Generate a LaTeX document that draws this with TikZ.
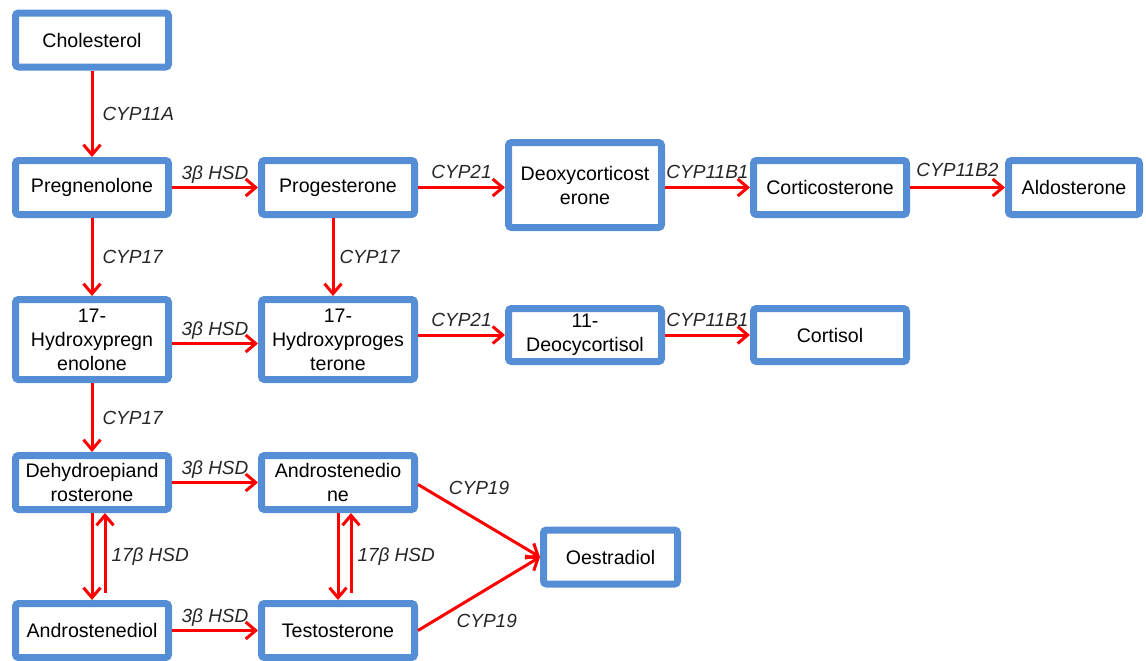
\documentclass[tikz,border=0pt]{standalone}
\usepackage{fontspec}
\setmainfont{Liberation Sans}
\usetikzlibrary{arrows.meta,positioning}
\definecolor{boxblue}{RGB}{85,142,213}
\definecolor{convred}{RGB}{255,0,0}
\tikzset{
    box/.style={draw=boxblue,line width=3.5pt,rounded corners=1.5pt,fill=white,
        align=center,inner sep=0pt,minimum width=76.5pt,minimum height=27pt,
        font=\fontsize{9.8}{12}\selectfont},
    conv/.style={convred,line width=1.5pt,-{Straight Barb[length=5pt,width=8.5pt,line width=1.5pt]}},
    enz/.style={font=\fontsize{9.5}{11}\selectfont\itshape,text=black!85,inner sep=1.5pt}
}
\begin{document}
\begin{tikzpicture}[x=0.5pt,y=-0.5pt]
        \useasboundingbox (0,0) rectangle (1146,660);
        %% Steroids
        \node[box] (chol) at (92,40) {Cholesterol};
        \node[box] (preg) at (92,187.5) {Pregnenolone};
        \node[box] (prog) at (338,187.5) {Progesterone};
        \node[box,minimum height=42.5pt] (doc) at (585,185) {Deoxycorticost\\erone};
        \node[box] (cort) at (830,187.5) {Corticosterone};
        \node[box,minimum width=65.5pt] (aldo) at (1074,187.5) {Aldosterone};
        \node[box,minimum height=40pt] (ohpreg) at (92,339.5) {17-\\Hydroxypregn\\enolone};
        \node[box,minimum height=40pt] (ohprog) at (338,339.5) {17-\\Hydroxyproges\\terone};
        \node[box,minimum height=26.5pt] (deoc) at (585,335) {11-\\Deocycortisol};
        \node[box,minimum height=26.5pt] (cortisol) at (830,335) {Cortisol};
        \node[box] (dhea) at (92,482.5) {Dehydroepiand\\rosterone};
        \node[box] (adione) at (338,482.5) {Androstenedio\\ne};
        \node[box] (adiol) at (92,630.5) {Androstenediol};
        \node[box] (testo) at (338,630.5) {Testosterone};
        \node[box,minimum width=67pt] (oest) at (610.5,557) {Oestradiol};
        %% Top row
        \draw[conv] (chol.south) -- (preg.north)
            node[midway,right=3pt,enz] {CYP11A};
        \draw[conv] (preg.east) -- (prog.west)
            node[midway,above,enz] {3β HSD};
        \draw[conv] (prog.east) -- (prog.east -| doc.west)
            node[midway,above=2pt,enz] {CYP21};
        \draw[conv] (doc.east |- cort.west) -- (cort.west)
            node[midway,above=2pt,enz] {CYP11B1};
        \draw[conv] (cort.east) -- (aldo.west)
            node[midway,above=3pt,enz] {CYP11B2};
        %% 17-hydroxy row
        \draw[conv] (preg.south) -- (ohpreg.north)
            node[midway,right=3pt,enz] {CYP17};
        \draw[conv] ([xshift=-2.5pt]prog.south) -- ([xshift=-2.5pt]ohprog.north)
            node[midway,right=1pt,enz] {CYP17};
        \draw[conv] ([yshift=-2pt]ohpreg.east) -- ([yshift=-2pt]ohprog.west)
            node[midway,above,enz] {3β HSD};
        \draw[conv] (ohprog.east |- deoc.west) -- (deoc.west)
            node[midway,above=2pt,enz] {CYP21};
        \draw[conv] (deoc.east) -- (cortisol.west)
            node[midway,above=2pt,enz] {CYP11B1};
        %% Androgens
        \draw[conv] (ohpreg.south) -- (dhea.north)
            node[midway,right=3pt,enz] {CYP17};
        \draw[conv] (dhea.east) -- (adione.west)
            node[midway,above,enz] {3β HSD};
        \draw[conv] (adiol.east) -- (testo.west)
            node[midway,above,enz] {3β HSD};
        \draw[conv] (dhea.south) -- (adiol.north);
        \draw[conv,shorten <=3.5pt] ([xshift=6.5pt]adiol.north) -- ([xshift=6.5pt]dhea.south)
            node[midway,right=1pt,enz] {17β HSD};
        \draw[conv] (adione.south) -- (testo.north);
        \draw[conv,shorten <=3.5pt] ([xshift=6.5pt]testo.north) -- ([xshift=6.5pt]adione.south)
            node[midway,right=1pt,enz] {17β HSD};
        %% Oestrogen
        \draw[conv] ([yshift=-1pt]adione.east) -- (oest.west)
            node[pos=0.2,anchor=south west,xshift=1pt,enz] {CYP19};
        \draw[conv] (testo.east) -- (oest.west)
            node[pos=0.28,anchor=north west,enz] {CYP19};
    \end{tikzpicture}
\end{document}
